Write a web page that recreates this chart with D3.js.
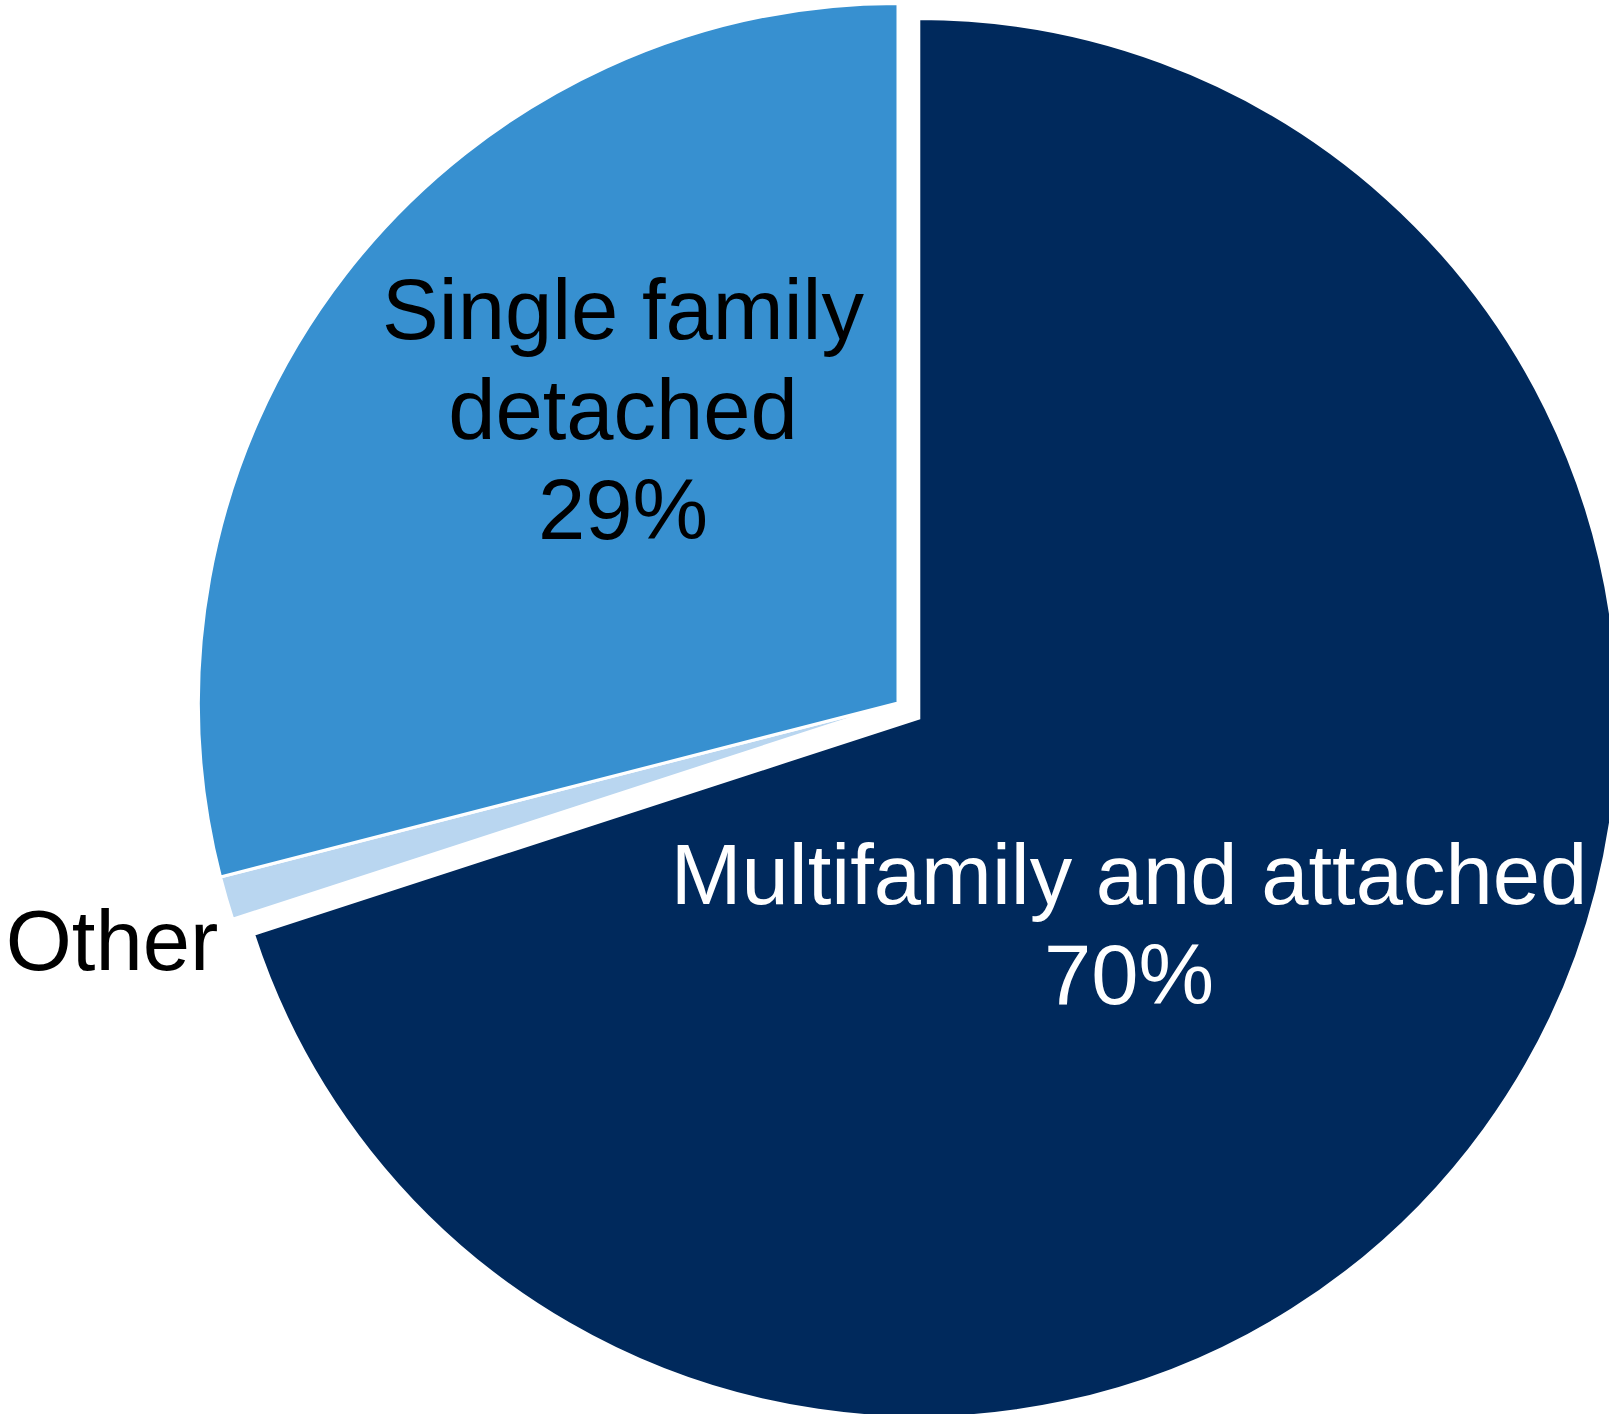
<!DOCTYPE html>
<meta charset="utf-8">
<script src="https://d3js.org/d3.v7.min.js"></script>
<style>
  body { margin: 0; background: #fff; }
  svg { display: block; }
</style>
<div id="my_dataviz"></div>
<script>

// data
var categories = ["Multifamily and attached", "Other", "Single family detached"];
var shares = [70, 1, 29];
var labelLines = [["Multifamily and attached", "70%"], ["Other"], ["Single family", "detached", "29%"]];
var colors = ["#00295C", "#B9D6F0", "#3790D0"];
var exploded = [true, false, false];

var width = 1609,
    height = 1414,
    cx = 898, cy = 703,
    radius = 699.5,
    explode = 25.7;

var svg = d3.select("#my_dataviz")
  .append("svg")
    .attr("width", width)
    .attr("height", height)
  .append("g")
    .attr("transform", "translate(" + cx + "," + cy + ")");

var pie = d3.pie()
  .sort(null)
  .value(function(d) { return d; });

var arcs = pie(shares);

var arc = d3.arc()
  .innerRadius(0)
  .outerRadius(radius);

function offset(d, i) {
  if (!exploded[i]) return [0, 0];
  var a = (d.startAngle + d.endAngle) / 2;
  return [explode * Math.sin(a), -explode * Math.cos(a)];
}

svg.selectAll("path")
  .data(arcs)
  .enter().append("path")
    .attr("d", arc)
    .attr("transform", function(d, i) { var o = offset(d, i); return "translate(" + o[0] + "," + o[1] + ")"; })
    .attr("fill", function(d, i) { return colors[i]; })
    .attr("stroke", "white")
    .attr("stroke-width", 3)
    .attr("stroke-linejoin", "miter");

// label anchors, relative to the pie center (first line baseline)
var labelPos = [[231, 201], [-786, 267], [-275, -364]];
var labelColor = ["white", "black", "black"];
var lineHeight = 100;

var labels = svg.selectAll("text.lbl")
  .data(arcs)
  .enter().append("text")
    .attr("class", "lbl")
    .attr("text-anchor", "middle")
    .attr("font-family", "'Liberation Sans', Arial, sans-serif")
    .attr("font-size", "85px")
    .attr("fill", function(d, i) { return labelColor[i]; })
    .attr("transform", function(d, i) { return "translate(" + labelPos[i][0] + "," + labelPos[i][1] + ")"; });

labels.selectAll("tspan")
  .data(function(d, i) { return labelLines[i]; })
  .enter().append("tspan")
    .attr("x", 0)
    .attr("y", function(d, j) { return j * lineHeight; })
    .text(function(d) { return d; });

</script>
